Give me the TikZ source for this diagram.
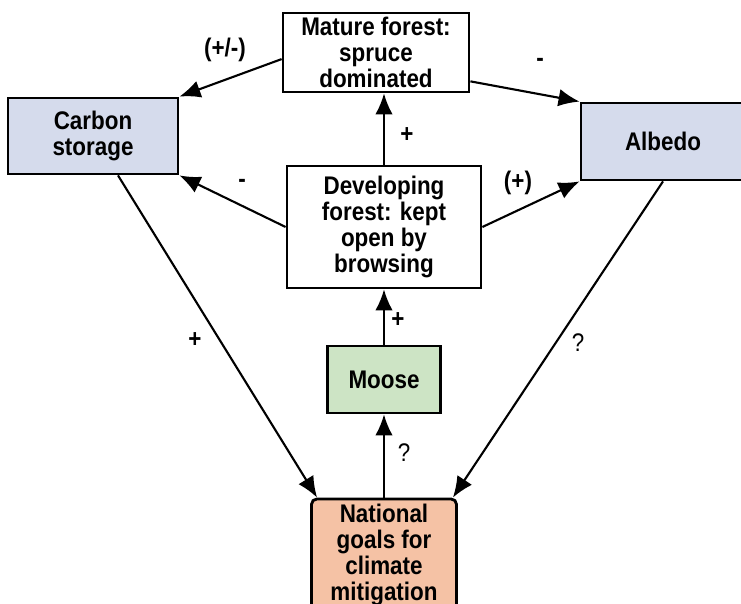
\documentclass[tikz,border=0pt]{standalone}
\usepackage{fontspec}
\setmainfont{Liberation Sans}[FakeStretch=0.88]
\usetikzlibrary{arrows.meta}
\definecolor{blaugrau}{HTML}{D5DBEC}
\definecolor{hellgruen}{HTML}{CDE4C5}
\definecolor{lachs}{HTML}{F5C2A5}
\begin{document}
\begin{tikzpicture}[x=0.02cm,y=-0.02cm,
	box/.style={draw,line width=1.6pt,align=center,inner sep=0pt,
		font=\bfseries\fontsize{14.5}{14.8}\selectfont},
	pfeil/.style={-{Latex[length=12pt,width=10pt]},line width=1.2pt},
	zeichen/.style={inner sep=0pt,font=\bfseries\fontsize{14.5}{14.8}\selectfont}]
	
	\useasboundingbox (0,0) rectangle (741,604);
	\clip (0,0) rectangle (741,604);
	
	%Kasten oben
	\node[box,minimum width=3.72cm,minimum height=1.58cm] (mature) at (376,52.5) {Mature forest:\\spruce\\dominated};
	\node[box,minimum width=3.88cm,minimum height=2.44cm] (developing) at (384,227) {Developing\\forest: kept\\open by\\browsing};
	
	%Seiten
	\node[box,fill=blaugrau,minimum width=3.4cm,minimum height=1.52cm] (carbon) at (93,136) {Carbon\\storage};
	\node[box,fill=blaugrau,minimum width=3.28cm,minimum height=1.54cm] (albedo) at (663,141.5) {Albedo};
	
	%unten
	\node[box,fill=hellgruen,minimum width=2.26cm,minimum height=1.34cm] (moose) at (384,379.5) {Moose};
	\node[box,fill=lachs,rounded corners=3pt,minimum width=2.9cm,minimum height=2.24cm] (national) at (384,555) {National\\goals for\\climate\\mitigation};
	
	%Pfeile
	\draw[pfeil] (mature.184.6) -- (carbon.north east);
	\draw[pfeil] (mature.343.5) -- (albedo.north west);
	\draw[pfeil] (developing.north) -- (developing.north |- mature.south);
	\draw[pfeil] (developing.west) -- (carbon.south east);
	\draw[pfeil] (developing.east) -- (albedo.south west);
	\draw[pfeil] (moose.north) -- (developing.south);
	\draw[pfeil] (national.north) -- (moose.south);
	\draw[pfeil] ([xshift=0.5cm]carbon.south) -- ([xshift=0.14cm]national.north west);
	\draw[pfeil] (albedo.south) -- ([xshift=-0.1cm]national.north east);
	
	%Vorzeichen
	\node[zeichen] (l1) at (225,50) {(+/-)};
	\node[zeichen] (l2) at (540,62) {-};
	\node[zeichen] (l3) at (407,135) {+};
	\node[zeichen] (l4) at (242,183) {-};
	\node[zeichen] (l5) at (518,183) {(+)};
	\node[zeichen] (l6) at (398,320) {+};
	\node[zeichen] (l7) at (195,340) {+};
	\node[zeichen,font=\fontsize{14.5}{14.8}\selectfont] (l8) at (404,453) {?};
	\node[zeichen,font=\fontsize{14.5}{14.8}\selectfont] (l9) at (578,343) {?};
	
\end{tikzpicture}
\end{document}
